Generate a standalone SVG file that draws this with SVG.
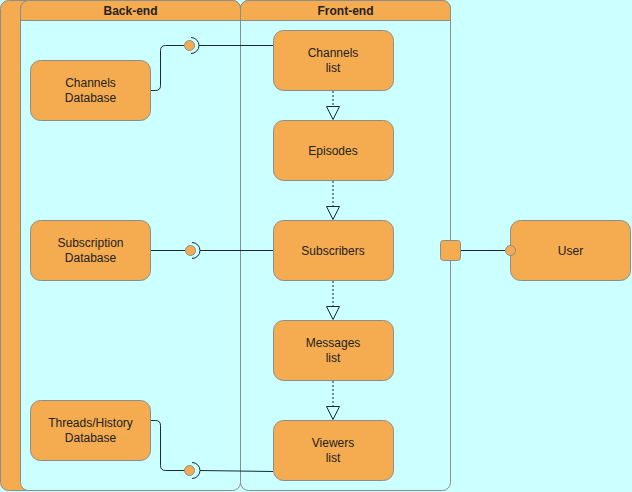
<svg xmlns="http://www.w3.org/2000/svg" width="632" height="492" viewBox="0 0 632 492">
<defs>
<style>
.lane{fill:#CCFFFF;stroke:#8C8C8C;stroke-width:1}
.hdr{fill:#F5AB50;stroke:#8C8C8C;stroke-width:1}
.node{fill:#F5AB50;stroke:#8C8C8C;stroke-width:1}
.t{font-family:"Liberation Sans",Arial,sans-serif;font-size:12px;fill:#222;text-anchor:middle}
.h{font-family:"Liberation Sans",Arial,sans-serif;font-size:12px;font-weight:bold;fill:#222;text-anchor:middle}
.ln{fill:none;stroke:#1A2A33;stroke-width:1}
.dash{fill:none;stroke:#55707A;stroke-width:1.5;stroke-dasharray:2,2}
.ball{fill:#F5AB50;stroke:#8C8C8C;stroke-width:1}
</style>
<marker id="tri" markerWidth="16" markerHeight="16" refX="7" refY="15" orient="auto" markerUnits="userSpaceOnUse" viewBox="0 0 16 16">
</marker>
</defs>
<rect x="0" y="0" width="632" height="492" fill="#CCFFFF"/>
<g id="pool">
<rect x="0.5" y="0.5" width="40" height="490" rx="8" class="hdr"/>
</g>
<g id="lane-backend">
<rect x="20.5" y="0.5" width="220" height="490" rx="8" class="lane"/>
<path d="M20.5 20.5 V8.5 A8 8 0 0 1 28.5 0.5 H232.5 A8 8 0 0 1 240.5 8.5 V20.5 Z" class="hdr"/>
<text x="130.5" y="15" class="h">Back-end</text>
</g>
<g id="lane-frontend">
<rect x="240.5" y="0.5" width="210" height="490" rx="8" class="lane"/>
<path d="M240.5 20.5 V8.5 A8 8 0 0 1 248.5 0.5 H442.5 A8 8 0 0 1 450.5 8.5 V20.5 Z" class="hdr"/>
<text x="345.5" y="15" class="h">Front-end</text>
</g>
<g id="connectors">
<path d="M150.5 90.5 H155.5 Q160.5 90.5 160.5 85.5 V50.5 Q160.5 45.5 165.5 45.5 H184" class="ln"/>
<path d="M191 37.5 A8 8 0 0 1 191 53.5" class="ln"/>
<path d="M199 45.5 H273" class="ln"/>
<path d="M150.5 250.5 H185" class="ln"/>
<path d="M192 242.5 A8 8 0 0 1 192 258.5" class="ln"/>
<path d="M200 250.5 H273" class="ln"/>
<path d="M150.5 420.5 H155.5 Q160.5 420.5 160.5 425.5 V465.5 Q160.5 470.5 165.5 470.5 H185" class="ln"/>
<path d="M192 462.5 A8 8 0 0 1 192 478.5" class="ln"/>
<path d="M200 470.5 L273 471.5" class="ln"/>
<path d="M460.5 250.5 H505" class="ln"/>
<circle cx="189.5" cy="45.5" r="5" class="ball"/>
<circle cx="190.5" cy="250.5" r="5" class="ball"/>
<circle cx="189.5" cy="470.5" r="5" class="ball"/>
<g>
<path d="M333 91 V106" class="dash"/>
<path d="M326.5 106.5 H339.5 L333 119.5 Z" fill="none" stroke="#1A2A33" stroke-width="1"/>
<path d="M333 181 V206" class="dash"/>
<path d="M326.5 206.5 H339.5 L333 219.5 Z" fill="none" stroke="#1A2A33" stroke-width="1"/>
<path d="M333 281 V306" class="dash"/>
<path d="M326.5 306.5 H339.5 L333 319.5 Z" fill="none" stroke="#1A2A33" stroke-width="1"/>
<path d="M333 381 V406" class="dash"/>
<path d="M326.5 406.5 H339.5 L333 419.5 Z" fill="none" stroke="#1A2A33" stroke-width="1"/>
</g>
</g>
<g id="channels-db"><rect x="30.5" y="60.5" width="120" height="60" rx="10" class="node"/><text x="90.5" y="87" class="t">Channels</text><text x="90.5" y="102" class="t">Database</text></g>
<g id="subscription-db"><rect x="30.5" y="220.5" width="120" height="60" rx="10" class="node"/><text x="90.5" y="247" class="t">Subscription</text><text x="90.5" y="262" class="t">Database</text></g>
<g id="threads-db"><rect x="30.5" y="400.5" width="120" height="60" rx="10" class="node"/><text x="90.5" y="427" class="t">Threads/History</text><text x="90.5" y="442" class="t">Database</text></g>
<g id="channels-list"><rect x="273.5" y="30.5" width="120" height="60" rx="10" class="node"/><text x="333" y="57" class="t">Channels</text><text x="333" y="72" class="t">list</text></g>
<g id="episodes"><rect x="273.5" y="120.5" width="120" height="60" rx="10" class="node"/><text x="333" y="154.5" class="t">Episodes</text></g>
<g id="subscribers"><rect x="273.5" y="220.5" width="120" height="60" rx="10" class="node"/><text x="333" y="254.5" class="t">Subscribers</text></g>
<g id="messages-list"><rect x="273.5" y="320.5" width="120" height="60" rx="10" class="node"/><text x="333" y="347" class="t">Messages</text><text x="333" y="362" class="t">list</text></g>
<g id="viewers-list"><rect x="273.5" y="420.5" width="120" height="60" rx="10" class="node"/><text x="333" y="447" class="t">Viewers</text><text x="333" y="462" class="t">list</text></g>
<g id="port"><rect x="440.5" y="240.5" width="20" height="20" rx="3" class="node"/></g>
<g id="user"><rect x="510.5" y="220.5" width="120" height="60" rx="10" class="node"/><text x="570.5" y="254.5" class="t">User</text><circle cx="510.5" cy="250.5" r="5" class="ball"/></g>
</svg>
